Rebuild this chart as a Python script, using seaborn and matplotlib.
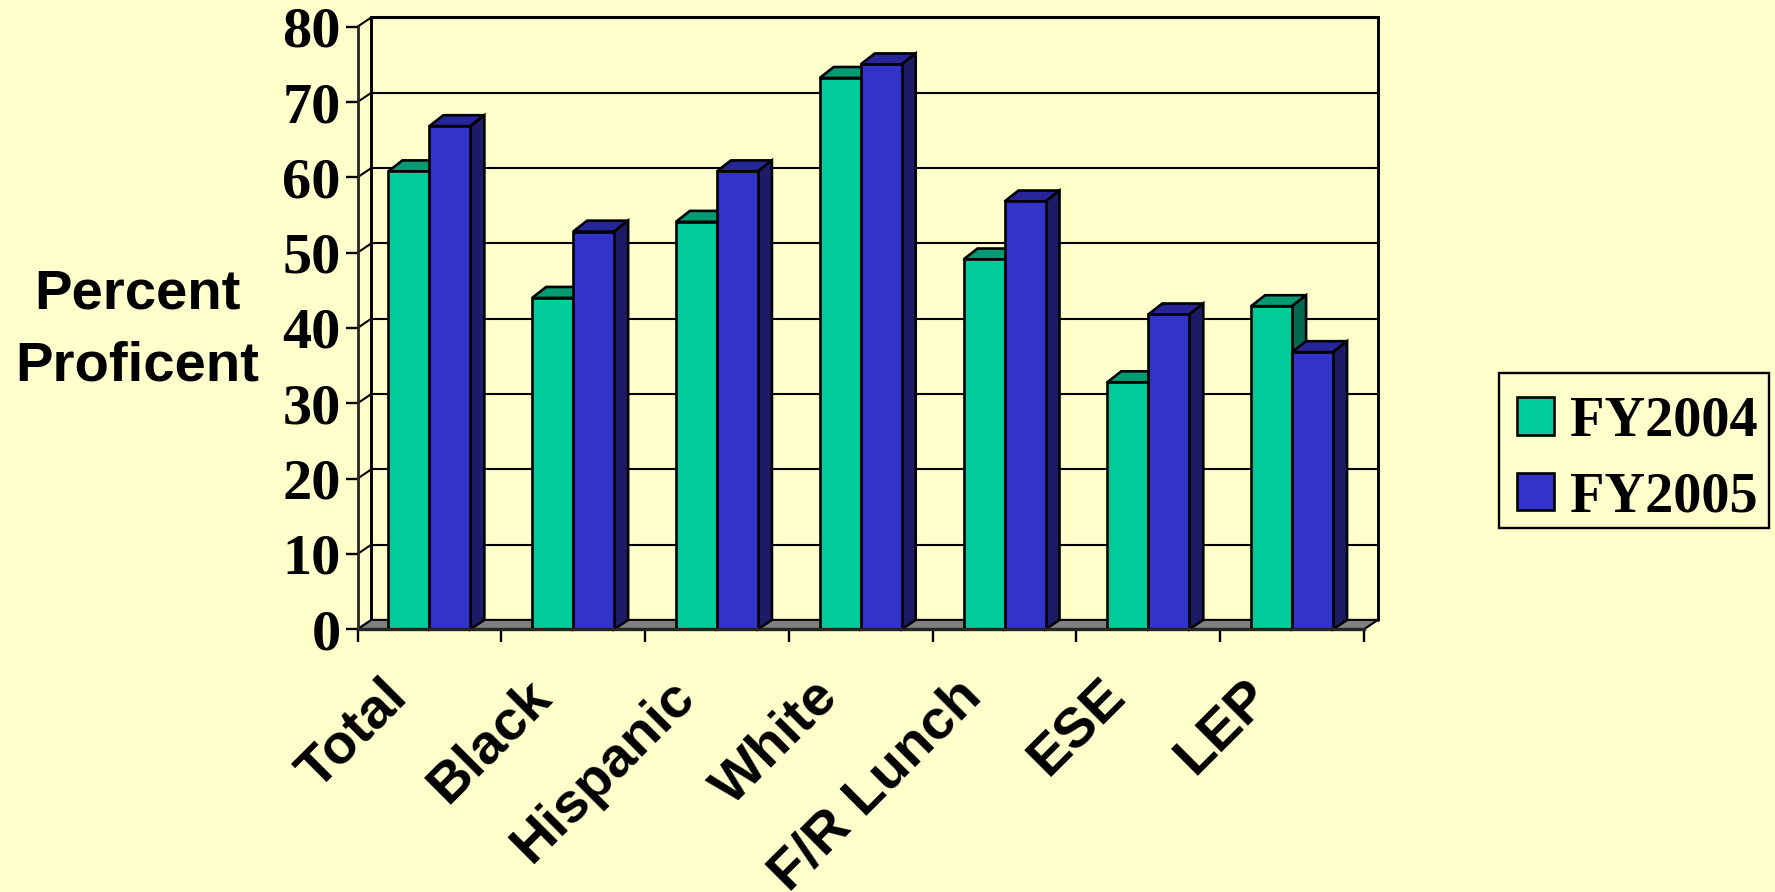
import matplotlib
matplotlib.use('Agg')
import matplotlib.pyplot as plt
from matplotlib.patches import Polygon, Rectangle
from matplotlib.transforms import ScaledTranslation
import pandas as pd
import seaborn as sns

# values
groups = ['Total', 'Black', 'Hispanic', 'White', 'F/R Lunch', 'ESE', 'LEP']
fy2004 = [60.8, 44.0, 54.1, 73.2, 49.1, 32.8, 42.9]
fy2005 = [66.8, 52.8, 60.8, 75.0, 56.8, 41.8, 36.8]
y_ticks = [0, 10, 20, 30, 40, 50, 60, 70, 80]

bg = '#FFFFCC'
front = {'FY2004': '#00CC99', 'FY2005': '#3333CC'}
top_col = ['#009A73', '#26269A']
side_col = ['#006B50', '#1C1C66']
lw = 1.5
bar_lw = 1.9

# depth of the fake 3d, in data units
dx = 14 / 144
dy = 1.25
bar_dy = 1.45

df = pd.DataFrame({
    'group': groups * 2,
    'year': ['FY2004'] * len(groups) + ['FY2005'] * len(groups),
    'value': fy2004 + fy2005,
})

sns.set_style('white')
fig = plt.figure(figsize=(17.75, 8.92), dpi=100, facecolor=bg)
ax = fig.add_axes([357.5 / 1775, 1 - 629.3 / 892, (1364 - 357.5) / 1775, (629.3 - 26.7) / 892])
ax.set_facecolor(bg)

sns.barplot(data=df, x='group', y='value', hue='year', order=groups, palette=front,
            width=0.57, gap=0, edgecolor='black', linewidth=bar_lw, saturation=1, ax=ax)

x0, x1 = -0.5, len(groups) - 0.5
ax.set_xlim(x0, x1)
ax.set_ylim(0, 80)
ax.set_xlabel('')
ax.set_ylabel('')

# back wall and floor
for v in y_ticks[1:]:
    ax.plot([x0 + dx, x1 + dx], [v + dy, v + dy], color='black', lw=2.2 if v == 80 else lw,
            clip_on=False, zorder=1, solid_capstyle='projecting')
for xx in [x0 + dx, x1 + dx]:
    ax.plot([xx, xx], [dy, 80 + dy], color='black', lw=2.1, clip_on=False, zorder=1)
for v in y_ticks:
    ax.plot([x0, x0 + dx], [v, v + dy], color='black', lw=lw, clip_on=False, zorder=1)
ax.add_patch(Polygon([(x0, 0), (x1, 0), (x1 + dx, dy), (x0 + dx, dy)], closed=True,
                     facecolor='#808080', edgecolor='black', lw=lw, clip_on=False, zorder=2))

# top and side of every bar, taken from the bars seaborn drew
for s, cont in enumerate(ax.containers):
    for i, bar in enumerate(cont):
        z = 3 + i * 2 + s * 0.5
        l, h = bar.get_x(), bar.get_height()
        r = l + bar.get_width()
        bar.set_zorder(z + 0.2)
        bar.set_clip_on(False)
        ax.add_patch(Polygon([(l, h), (r, h), (r + dx, h + bar_dy), (l + dx, h + bar_dy)], closed=True,
                             facecolor=top_col[s], edgecolor='black', lw=bar_lw, clip_on=False, zorder=z))
        ax.add_patch(Polygon([(r, 0), (r + dx, dy), (r + dx, h + bar_dy), (r, h)], closed=True,
                             facecolor=side_col[s], edgecolor='black', lw=bar_lw, clip_on=False, zorder=z))

sns.despine(ax=ax, top=True, right=True)
ax.spines['left'].set_linewidth(2.0)
ax.spines['bottom'].set_linewidth(2.4)
ax.spines['left'].set_zorder(30)
ax.spines['bottom'].set_zorder(30)

ax.set_yticks(y_ticks)
ax.set_yticklabels([str(v) for v in y_ticks], family='Liberation Serif', weight='bold', fontsize=42)
ax.tick_params(axis='y', left=True, length=9, width=1.7, pad=3, color='black', labelcolor='black')

ax.set_xticks([i + x0 for i in range(len(groups) + 1)], minor=True)
ax.tick_params(axis='x', which='minor', bottom=True, length=9, width=1.7, color='black')
ax.set_xticks(range(len(groups)))
ax.set_xticklabels(groups, family='Liberation Sans', weight='bold', fontsize=40.5,
                   rotation=45, ha='right', rotation_mode='anchor')
ax.tick_params(axis='x', which='major', bottom=False, pad=26, labelcolor='black')
# labels sit well left of the group centres
shift = ScaledTranslation(-49 / 100, 0, fig.dpi_scale_trans)
for lab in ax.get_xticklabels():
    lab.set_transform(lab.get_transform() + shift)

fig.text(137 / 1775, 1 - 294.5 / 892, 'Percent', family='Liberation Sans', weight='bold',
         fontsize=40.5, ha='center', va='center', color='black')
fig.text(137 / 1775, 1 - 366.5 / 892, 'Proficent', family='Liberation Sans', weight='bold',
         fontsize=40.5, ha='center', va='center', color='black')

# legend frame is its own box, the padding in the original is uneven
fig.add_artist(Rectangle((1499 / 1775, 1 - 528 / 892), 270 / 1775, 155.3 / 892, transform=fig.transFigure,
                         facecolor=bg, edgecolor='black', lw=1.7, zorder=-1))
sns.move_legend(ax, 'upper left', bbox_to_anchor=(1517 / 1775, 1 - 395.5 / 892),
                bbox_transform=fig.transFigure, title=None, frameon=False, borderaxespad=0, borderpad=0,
                handlelength=0.665, handleheight=0.65, handletextpad=0.27, labelspacing=0.42,
                labelcolor='black', prop={'family': 'Liberation Serif', 'weight': 'bold', 'size': 40.5})
for h in ax.get_legend().get_patches():
    h.set_linewidth(bar_lw)

fig.savefig('out.png', dpi=100, facecolor=bg)
